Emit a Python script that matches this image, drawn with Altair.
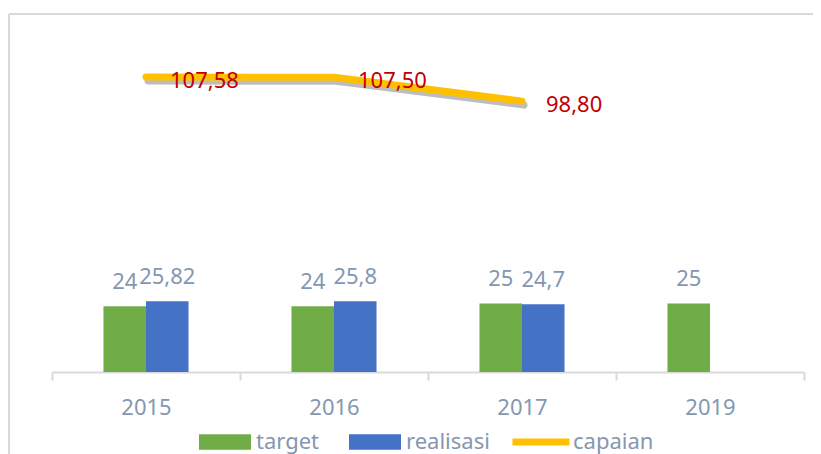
import altair as alt
import pandas as pd

# ---- data ----
years = ["2015", "2016", "2017", "2019"]
target = [24, 24, 25, 25]
realisasi = [25.82, 25.8, 24.7, None]
capaian = [107.58, 107.50, 98.80, None]
series_names = ["target", "realisasi"]
series_colors = ["#70AD47", "#4472C4"]
line_name = "capaian"
line_color = "#FFC000"


def fmt(v):
    return f"{v:g}".replace(".", ",")


rows = []
for y, t, r in zip(years, target, realisasi):
    rows.append({"year": y, "series": "target", "value": t, "label": fmt(t)})
    if r is not None:
        rows.append({"year": y, "series": "realisasi", "value": r, "label": fmt(r)})
bars_df = pd.DataFrame(rows)

line_df = pd.DataFrame(
    [{"year": y, "capaian": c, "cap_label": f"{c:.2f}".replace(".", ","), "s": line_name}
     for y, c in zip(years, capaian) if c is not None]
)

FONT = "Noto Sans"
GRAY = "#8497B0"
RED = "#C00000"

x_enc = alt.X("year:N", sort=years, title=None,
              scale=alt.Scale(paddingInner=0, paddingOuter=0),
              axis=alt.Axis(labelAngle=0, domainColor="#D9D9D9", domainWidth=2,
                            tickColor="#D9D9D9", tickWidth=2, tickSize=8,
                            tickBand="extent", labelColor=GRAY, labelFontSize=22,
                            labelFont=FONT, labelPadding=17, grid=False, title=None))
y_scale = alt.Scale(domain=[0, 120], nice=False, zero=True)
# empty slots on both sides keep the two bars of a year adjacent and centred
xoff = alt.XOffset("series:N",
                   scale=alt.Scale(domain=["_l"] + series_names + ["_r"],
                                   paddingOuter=0.21, paddingInner=0))

rect_path = "M-1,-0.3L1,-0.3L1,0.3L-1,0.3Z"

bars = alt.Chart(bars_df).mark_bar().encode(
    x=x_enc,
    xOffset=xoff,
    y=alt.Y("value:Q", scale=y_scale, axis=None),
    color=alt.Color("series:N",
                    scale=alt.Scale(domain=series_names, range=series_colors),
                    legend=alt.Legend(title=None, orient="none", legendX=147, legendY=373,
                                      direction="horizontal", symbolType=rect_path,
                                      symbolSize=2704, symbolStrokeWidth=0,
                                      labelFontSize=22, labelFont=FONT, labelColor=GRAY,
                                      labelOffset=5, columnPadding=29)),
)

bar_text = alt.Chart(bars_df).mark_text(
    baseline="alphabetic", dy=-17, fontSize=22, font=FONT, color=GRAY
).encode(
    x=x_enc,
    xOffset=xoff,
    y=alt.Y("value:Q", scale=y_scale, axis=None),
    text="label:N",
)

shadow = alt.Chart(line_df).mark_line(
    strokeWidth=7, strokeCap="round", strokeJoin="round", color="#595959",
    opacity=0.4, yOffset=4, xOffset=2
).encode(
    x=x_enc,
    y=alt.Y("capaian:Q", scale=y_scale, axis=None),
)

line = alt.Chart(line_df).mark_line(
    strokeWidth=7, strokeCap="round", strokeJoin="round"
).encode(
    x=x_enc,
    y=alt.Y("capaian:Q", scale=y_scale, axis=None),
    stroke=alt.Stroke("s:N", scale=alt.Scale(domain=[line_name], range=[line_color]),
                      legend=alt.Legend(title=None, orient="none", legendX=457, legendY=367,
                                        symbolType="M-1,0L1,0", symbolSize=3249,
                                        symbolStrokeWidth=7,
                                        labelFontSize=22, labelFont=FONT, labelColor=GRAY,
                                        labelOffset=0)),
)

line_text = alt.Chart(line_df).mark_text(
    align="left", baseline="alphabetic", dx=24, dy=11, fontSize=22, font=FONT, color=RED
).encode(
    x=x_enc,
    y=alt.Y("capaian:Q", scale=y_scale, axis=None),
    text="cap_label:N",
)

border_src = alt.Data(values=[{"k": 1}])
border_top = alt.Chart(border_src).mark_rule(color="#D9D9D9", strokeWidth=2).encode(
    x=alt.value(-43), x2=alt.value(761), y=alt.value(-29)
)
border_left = alt.Chart(border_src).mark_rule(color="#D9D9D9", strokeWidth=2).encode(
    x=alt.value(-43), y=alt.value(-29), y2=alt.value(411)
)

chart = alt.layer(
    border_top, border_left, bars, bar_text, shadow, line, line_text
).resolve_scale(color="independent", stroke="independent").properties(
    width=752, height=329, autosize="none",
    padding={"left": 44, "top": 35, "right": 9, "bottom": 82},
).configure_view(stroke=None)

chart.save("out.html", embed_options={"renderer": "svg", "actions": False})
